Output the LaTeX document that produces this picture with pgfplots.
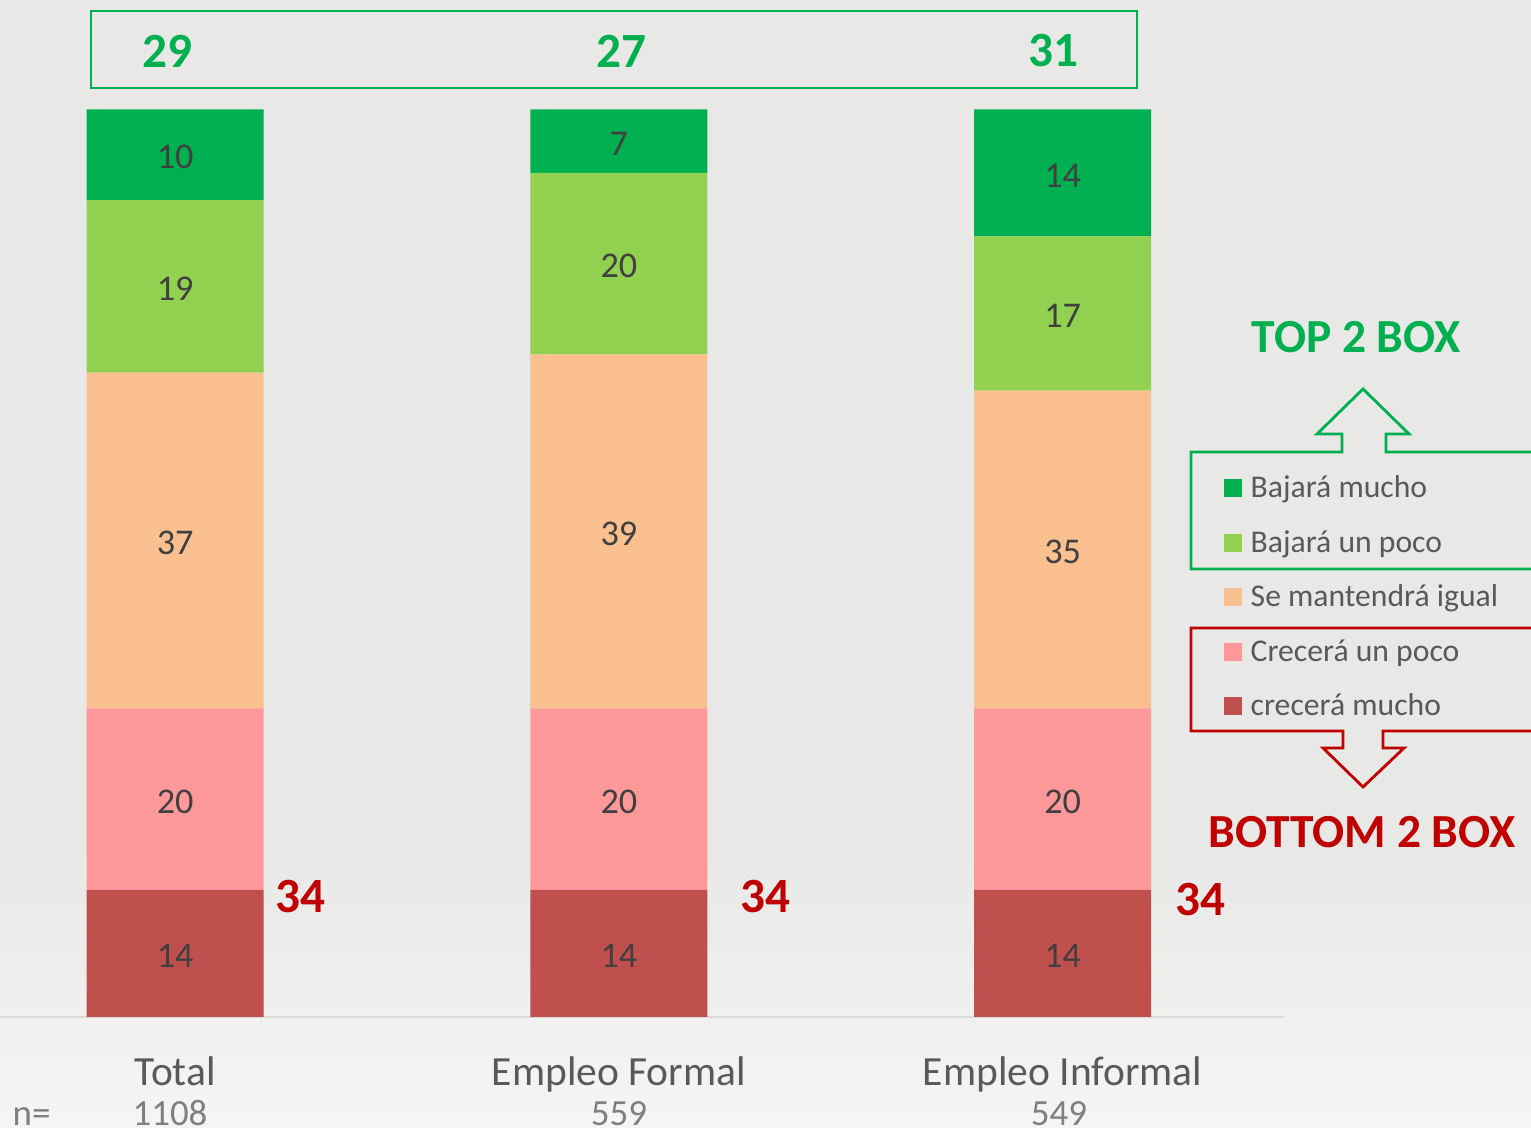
\documentclass[border=0pt]{standalone}
\usepackage{pgfplots}
\pgfplotsset{compat=1.18}
\usepackage{fontspec}
\setmainfont{Carlito}

\definecolor{bmucho}{HTML}{00B050}
\definecolor{bpoco}{HTML}{92D050}
\definecolor{igual}{HTML}{FAC090}
\definecolor{cpoco}{HTML}{FF9999}
\definecolor{cmucho}{HTML}{C0504D}
\definecolor{topgreen}{HTML}{00B050}
\definecolor{botred}{HTML}{C00000}
\definecolor{txt}{HTML}{404040}
\definecolor{legtxt}{HTML}{595959}
\definecolor{ntxt}{HTML}{7F7F7F}
\definecolor{bgtop}{HTML}{E8E8E7}
\definecolor{bgbot}{HTML}{F5F5F5}
\definecolor{axgray}{HTML}{D9D9D9}

\pgfplotsset{
  base/.style={
    scale only axis, width=12.83cm, height=9.07cm,
    at={(0cm,1.11cm)}, anchor=south west,
    xmin=-0.3946, xmax=2.4983, ymin=0, ymax=100,
  }
}

\begin{document}
\begin{tikzpicture}[x=0.01cm,y=0.01cm]
\useasboundingbox (0,0) rectangle (1531,1128);
% background
\fill[bgtop] (0,278) rectangle (1531,1128);
\shade[top color=bgtop, bottom color=bgbot] (0,0) rectangle (1531,279);

% stacked bars
\begin{axis}[base, ybar stacked, bar width=1.77cm,
  axis x line*=bottom, axis y line=none,
  x axis line style={draw=axgray, line width=0.6pt},
  xtick={0,1,2}, xticklabels={Total,Empleo Formal,Empleo Informal},
  major tick length=0pt,
  xticklabel style={font=\fontsize{11.8}{14}\selectfont, text=legtxt, anchor=base, yshift=-0.69cm},
  ytick=\empty]
\addplot[fill=cmucho, draw=none] coordinates {(0,14) (1,14) (2,14)};
\addplot[fill=cpoco, draw=none] coordinates {(0,20) (1,20) (2,20)};
\addplot[fill=igual, draw=none] coordinates {(0,37) (1,39) (2,35)};
\addplot[fill=bpoco, draw=none] coordinates {(0,19) (1,20) (2,17)};
\addplot[fill=bmucho, draw=none] coordinates {(0,10) (1,7) (2,14)};
\end{axis}

% value labels at segment centres
\begin{axis}[base, hide axis]
\addplot[draw=none, mark=none, nodes near coords, point meta=explicit symbolic,
  nodes near coords style={anchor=center, yshift=-0.025cm, text=txt, font=\fontsize{10.3}{12}\selectfont}]
  coordinates {
    (0,7)[14] (1,7)[14] (2,7)[14]
    (0,24)[20] (1,24)[20] (2,24)[20]
    (0,52.5)[37] (1,53.5)[39] (2,51.5)[35]
    (0,80.5)[19] (1,83)[20] (2,77.5)[17]
    (0,95)[10] (1,96.5)[7] (2,93)[14]
  };
\end{axis}

% top 2 box totals
\draw[topgreen, line width=0.8pt] (91,1117) rectangle (1137,1040);
\begin{scope}[every node/.style={text=topgreen, font=\bfseries\fontsize{14}{16}\selectfont}]
\node at (167,1077) {29};
\node at (621,1077) {27};
\node at (1053,1077) {31};
\end{scope}

% bottom 2 box totals
\begin{scope}[every node/.style={text=botred, font=\bfseries\fontsize{14}{16}\selectfont}]
\node at (300,231) {34};
\node at (765,231) {34};
\node at (1200,228) {34};
\end{scope}

% n values
\node[anchor=base west, text=ntxt, font=\fontsize{10.5}{12}\selectfont, inner sep=0] at (12,2) {n=};
\node[anchor=base, text=ntxt, font=\fontsize{10.5}{12}\selectfont, inner sep=0] at (170,2) {1108};
\node[anchor=base, text=ntxt, font=\fontsize{10.5}{12}\selectfont, inner sep=0] at (619,2) {559};
\node[anchor=base, text=ntxt, font=\fontsize{10.5}{12}\selectfont, inner sep=0] at (1059,2) {549};

% legend with bracket arrows
\draw[topgreen, line width=0.8pt] (1540,676) -- (1386,676) -- (1386,694) -- (1409,694) -- (1363,739)
  -- (1317,694) -- (1342,694) -- (1342,676) -- (1191,676) -- (1191,559) -- (1540,559);
\draw[botred, line width=0.8pt] (1540,500) -- (1191,500) -- (1191,397) -- (1343,397) -- (1343,380)
  -- (1323,380) -- (1363,341) -- (1404,380) -- (1383,380) -- (1383,397) -- (1540,397);
\node[text=topgreen, font=\bfseries\fontsize{13.5}{16}\selectfont] at (1356,791) {TOP 2 BOX};
\node[text=botred, font=\bfseries\fontsize{13.5}{16}\selectfont] at (1362,296) {BOTTOM 2 BOX};

\foreach \c/\t/\py in {bmucho/Bajará mucho/488, bpoco/Bajará un poco/543, igual/Se mantendrá igual/597,
    cpoco/Crecerá un poco/652, cmucho/crecerá mucho/706} {
  \fill[\c] (1224,{1128-\py-9}) rectangle (1242,{1128-\py+9});
  \node[anchor=base west, inner sep=0, text=legtxt, font=\fontsize{9}{10}\selectfont] at (1250,{1128-\py-10}) {\t};
}
\end{tikzpicture}
\end{document}
